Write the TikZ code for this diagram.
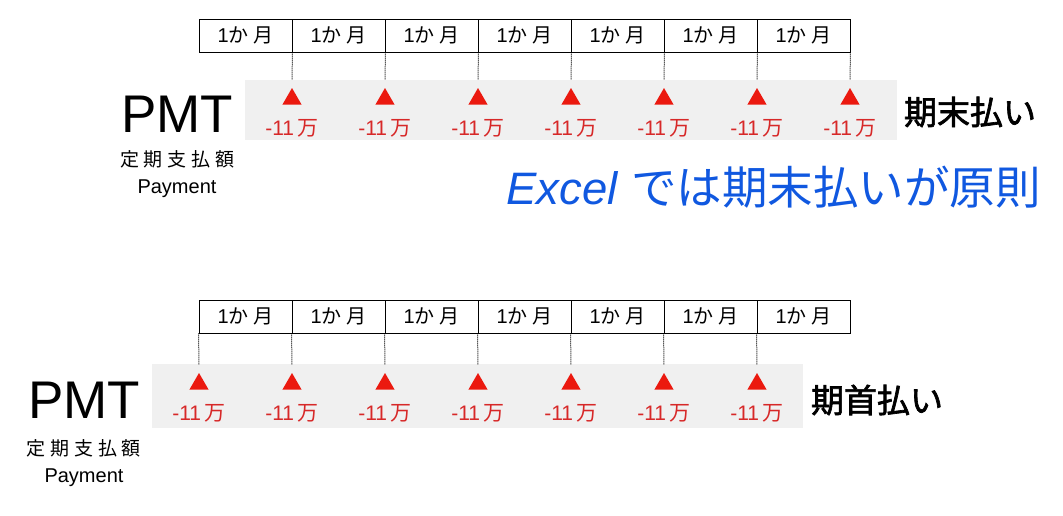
\documentclass[tikz,border=0pt]{standalone}
\usepackage{fontspec}
\usetikzlibrary{shapes.geometric}
\setmainfont{Liberation Sans}
\newfontfamily\jpfont{Noto Sans CJK JP}
\definecolor{bandgray}{RGB}{240,240,240}
\definecolor{payred}{RGB}{235,25,15}
\definecolor{amtred}{RGB}{215,40,40}
\definecolor{excelblue}{RGB}{16,88,224}
\newcommand{\monthlabel}{1{\jpfont か 月}}
\newcommand{\amountlabel}{-11\,{\jpfont 万}}
\tikzset{
  month/.style={draw, line width=0.8pt, minimum width=93pt, minimum height=33pt, inner sep=0pt, font=\fontsize{20}{24}\selectfont},
  paytri/.style={regular polygon, regular polygon sides=3, fill=payred, minimum size=22pt, inner sep=0pt},
  amount/.style={text=amtred, inner sep=0pt, font=\fontsize{21}{24}\selectfont},
  tick/.style={line width=1pt, dash pattern=on 1pt off 1pt, shorten >=8pt},
  pmt/.style={inner sep=0pt, anchor=base, font=\fontsize{53}{60}\selectfont},
  pmtjp/.style={inner sep=0pt, font=\fontsize{19}{22}\selectfont\jpfont\addfontfeature{LetterSpace=25}},
  pmten/.style={inner sep=0pt, font=\fontsize{20}{24}\selectfont},
  timing/.style={inner sep=0pt, font=\fontsize{33}{38}\selectfont\jpfont\addfontfeature{FakeBold=2}}
}
\begin{document}
\begin{tikzpicture}[x=1pt,y=-1pt]
\useasboundingbox (0,0) rectangle (1063,515);
\fill[bandgray] (245,80) rectangle (897,140);
\fill[bandgray] (152,364) rectangle (803,428);
\foreach \i in {0,...,6} {
\node[month] (tm\i) at ({245.5+93*\i},35.5) {\monthlabel};
\node[paytri] (tp\i) at ({292+93*\i},99) {};
\node[amount] (ta\i) at ({292+93*\i},128) {\amountlabel};
\draw[tick] (tm\i.south east) -- (tp\i.north);
\node[month] (bm\i) at ({245.5+93*\i},316.5) {\monthlabel};
\node[paytri] (bp\i) at ({199+93*\i},384) {};
\node[amount] (ba\i) at ({199+93*\i},413) {\amountlabel};
\draw[tick] (bm\i.south west) -- (bp\i.north);
}
\node[pmt] (pmtA) at (177,132) {PMT};
\node[pmtjp] (pmtAjp) at (177,159) {定期支払額};
\node[pmten] (pmtAen) at (177,189) {Payment};
\node[timing] (endpay) at (970,112) {期末払い};
\node[pmt] (pmtB) at (84,418) {PMT};
\node[pmtjp] (pmtBjp) at (84,448) {定期支払額};
\node[pmten] (pmtBen) at (84,478) {Payment};
\node[timing] (startpay) at (877,400) {期首払い};
\node[inner sep=0pt, anchor=base west, text=excelblue, font=\fontsize{45.5}{50}\selectfont] (excelrule) at (506,204) {\textit{Excel} {\jpfont では期末払いが原則}};
\end{tikzpicture}
\end{document}
